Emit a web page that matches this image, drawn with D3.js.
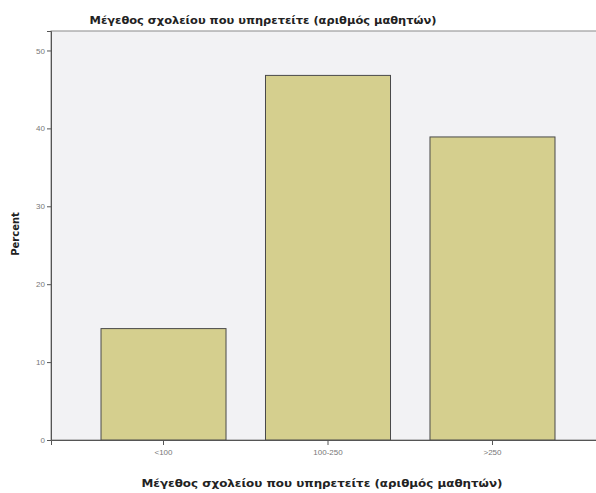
<!DOCTYPE html>
<html><head><meta charset="utf-8">
<script src="https://cdn.jsdelivr.net/npm/d3@7"></script>
<style>body{margin:0;background:#fff;}svg{display:block;}</style>
</head><body>
<svg id="c" width="596" height="493"></svg>
<script>
const categories = ["<100", "100-250", ">250"];
const percents = [14.3, 46.8, 38.9];
const yTicks = [0, 10, 20, 30, 40, 50];
const title = "Μέγεθος σχολείου που υπηρετείτε (αριθμός μαθητών)";
const xTitle = "Μέγεθος σχολείου που υπηρετείτε (αριθμός μαθητών)";
const yTitle = "Percent";

const svg = d3.select("#c");
const L = 51, R = 605, T = 31, B = 440;
const x = d3.scaleBand().domain(categories).range([L, R]).paddingInner(0.24).paddingOuter(0.304);
const y = d3.scaleLinear().domain([0, 52.5]).range([B, T]);

svg.append("rect").attr("x", L).attr("y", T).attr("width", R - L).attr("height", B - T)
  .attr("fill", "#f2f2f4").attr("stroke", "#8a8a8a").attr("stroke-width", 1);

svg.selectAll("rect.bar").data(percents).join("rect").attr("class", "bar")
  .attr("x", (d, i) => x(categories[i]))
  .attr("y", d => y(d))
  .attr("width", x.bandwidth())
  .attr("height", d => B - y(d))
  .attr("fill", "#d5cf8e").attr("stroke", "#4a4a4a").attr("stroke-width", 1);

const yAxis = svg.append("g").attr("transform", `translate(${L},0)`)
  .call(d3.axisLeft(y).tickValues(yTicks).tickSize(4).tickPadding(2));
yAxis.select(".domain").attr("stroke", "#555");
yAxis.selectAll(".tick line").attr("stroke", "#555");
yAxis.selectAll("text").attr("font-family", "Liberation Sans, Arial").attr("font-size", 8).attr("fill", "#777");

const xAxis = svg.append("g").attr("transform", `translate(0,${B})`)
  .call(d3.axisBottom(x).tickSize(5).tickPadding(4));
xAxis.select(".domain").attr("stroke", "#555");
xAxis.selectAll(".tick line").attr("stroke", "#555");
xAxis.selectAll("text").attr("font-family", "Liberation Sans, Arial").attr("font-size", 8).attr("fill", "#777");

svg.append("text").attr("x", 263).attr("y", 24).attr("text-anchor", "middle")
  .attr("font-family", "DejaVu Sans, Verdana").attr("font-weight", "bold").attr("font-size", 11)
  .attr("textLength", 347).attr("lengthAdjust", "spacingAndGlyphs")
  .attr("fill", "#222").text(title);

svg.append("text").attr("x", 322).attr("y", 487).attr("text-anchor", "middle")
  .attr("font-family", "DejaVu Sans, Verdana").attr("font-weight", "bold").attr("font-size", 11)
  .attr("textLength", 361).attr("lengthAdjust", "spacingAndGlyphs")
  .attr("fill", "#222").text(xTitle);

svg.append("text").attr("transform", "translate(19,234) rotate(-90)").attr("text-anchor", "middle")
  .attr("font-family", "DejaVu Sans, Verdana").attr("font-weight", "bold").attr("font-size", 10)
  .attr("fill", "#222").text(yTitle);
</script>
</body></html>
